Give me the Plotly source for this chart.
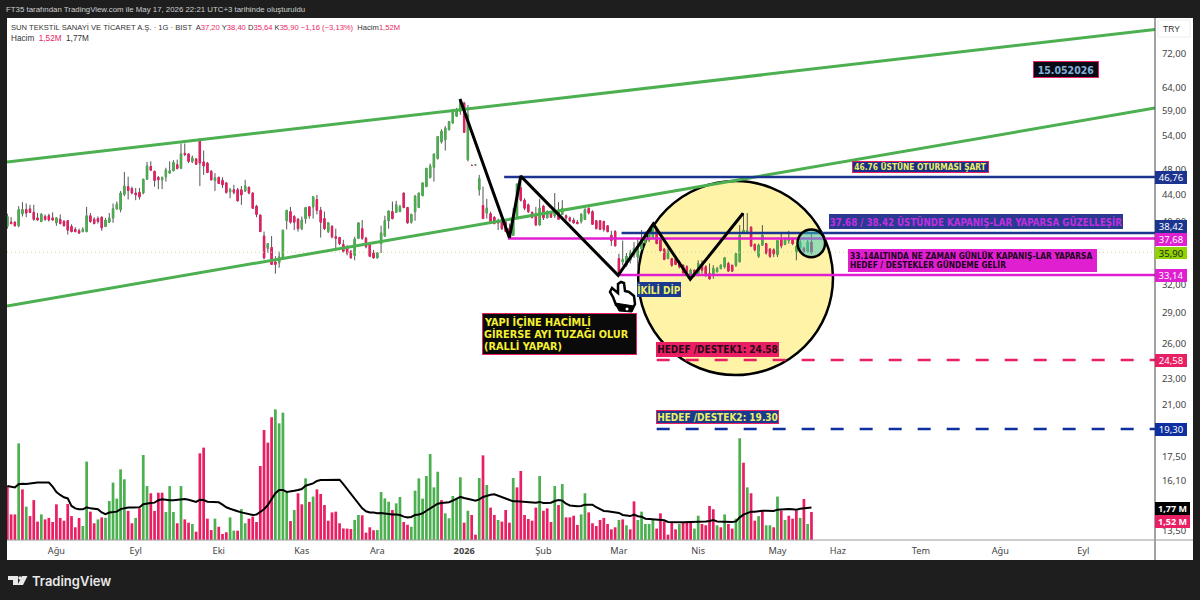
import plotly.graph_objects as go
import math

# ---------- candles ----------
opens = [39.3,39.9,39.9,39.4,41.1,41.7,41.8,41.3,40.5,40.0,
40.7,40.8,40.5,39.8,40.3,40.0,40.1,39.3,38.9,38.7,
38.6,38.6,40.8,40.3,40.4,40.6,39.3,39.9,40.5,41.8,
41.7,44.0,45.2,44.9,44.2,44.3,44.2,46.4,48.5,47.7,
46.7,46.3,46.8,47.4,47.8,48.8,48.2,50.8,50.7,49.4,
49.8,53.4,49.3,49.1,47.7,46.2,46.7,46.2,45.8,44.4,
44.7,44.7,44.7,44.5,45.1,44.2,42.2,40.9,38.0,36.4,
36.5,34.7,34.6,35.2,
40.1,41.4,40.7,40.3,39.0,40.4,42.1,42.1,43.2,41.6,
40.4,38.6,39.3,37.9,37.8,36.9,36.6,36.0,35.5,37.7,
39.0,37.7,37.1,35.8,35.2,37.0,38.0,40.1,41.4,41.3,
41.4,44.2,42.0,39.9,41.4,42.0,43.8,45.2,46.7,48.4,
49.9,52.9,53.3,55.2,56.5,57.9,58.9,60.6,49.7,48.7,
48.8,44.7,42.3,41.2,41.1,40.6,40.0,39.9,39.9,39.0,
38.1,40.7,45.0,43.1,42.4,41.3,41.0,39.5,42.2,40.5,
41.4,40.8,41.6,41.0,40.8,40.5,40.2,39.9,
40.0,40.3,41.9,41.4,40.1,40.1,40.0,39.4,38.1,38.6,
35.1,34.7,34.3,34.9,35.6,35.3,36.3,37.1,37.5,37.9,
38.9,37.5,36.3,35.1,35.1,35.0,34.7,34.3,34.1,32.9,
33.7,33.3,34.5,34.1,33.3,33.1,33.5,33.9,34.1,34.5,
34.3,34.3,34.7,38.5,38.6,39.2,36.9,35.4,36.8,37.0,
36.3,36.2,35.6,37.5,36.9,37.4,37.6,35.9,36.4,36.4,
36.0,37.20]
highs = [41.1,40.6,40.0,42.2,42.8,42.6,42.4,42.4,41.2,41.2,
41.0,41.1,41.3,40.6,41.0,40.2,40.2,39.6,39.2,39.0,
39.2,42.1,41.2,40.6,40.7,40.7,40.5,41.2,42.6,42.9,
44.5,47.6,46.8,45.2,45.0,45.0,46.4,49.3,49.4,47.8,
46.9,46.8,48.3,49.4,49.6,49.7,52.6,52.6,50.8,50.4,
50.0,53.4,51.3,49.3,47.9,47.4,46.8,46.7,45.9,45.0,
45.5,45.0,45.3,46.3,45.2,44.3,42.4,41.0,38.6,37.0,
38.0,35.4,36.0,38.8,
41.6,42.1,40.9,40.5,40.7,42.1,42.1,43.7,43.9,42.1,
41.4,39.9,39.5,39.0,37.9,37.5,36.8,36.2,37.9,39.8,
40.2,37.9,37.2,36.2,35.9,39.4,40.8,41.5,42.9,43.0,
42.4,44.2,42.1,41.1,43.9,44.2,45.8,48.2,49.0,50.7,
53.9,55.3,55.9,56.8,59.2,59.6,61.3,60.9,60.2,48.8,
48.9,47.1,45.2,43.3,41.4,40.7,40.4,40.1,40.1,39.7,
41.9,45.7,46.7,43.4,42.6,41.4,42.1,43.3,42.4,41.6,
41.5,44.2,42.8,43.1,41.0,40.7,40.5,40.2,
41.2,41.9,42.0,41.6,40.2,40.2,40.1,39.5,38.7,38.8,
35.7,37.4,35.8,36.2,37.2,37.6,38.8,38.6,39.0,39.5,
39.3,37.6,36.4,36.4,35.2,35.2,34.9,34.4,34.3,33.9,
33.8,34.9,34.9,34.3,34.5,34.3,34.1,34.4,35.3,34.7,
34.3,35.8,39.5,41.2,41.2,39.3,37.0,37.0,39.5,37.1,
36.4,36.4,37.5,38.3,37.8,38.7,37.8,36.8,37.9,36.6,
37.5,38.40]
lows = [39.0,39.6,39.3,39.2,40.7,40.6,41.2,40.1,40.1,39.9,
40.1,40.0,40.1,39.4,39.6,39.3,38.2,38.5,38.5,38.3,
38.5,38.5,39.8,39.6,39.7,38.7,39.2,39.8,39.8,41.7,
41.3,43.7,43.2,44.0,43.1,43.2,44.0,46.3,47.8,45.2,
44.8,44.8,46.0,47.3,47.7,48.0,48.2,50.3,49.1,49.1,
48.8,45.3,47.1,47.4,46.2,44.5,45.6,45.0,44.1,43.4,
44.0,42.9,42.4,44.4,44.0,41.8,40.6,38.6,35.0,35.8,
34.4,33.3,34.0,35.0,
38.9,39.7,38.8,38.6,38.8,39.7,40.4,40.4,41.0,37.8,
38.8,38.4,37.7,36.4,36.8,35.8,35.5,35.1,34.9,37.6,
37.5,36.4,35.3,35.1,35.1,35.8,37.9,39.0,40.3,41.3,
41.4,41.9,39.7,39.7,40.1,42.0,43.7,45.2,46.5,46.0,
49.7,52.6,51.3,55.1,56.5,57.8,58.2,54.7,49.4,48.6,
48.7,43.8,40.4,40.4,39.9,39.6,38.8,38.8,38.6,37.7,
38.1,40.7,42.9,41.6,41.2,40.4,39.4,39.5,40.2,40.5,
40.5,40.5,40.2,41.0,40.2,39.9,39.7,39.6,
39.7,40.2,41.0,39.5,38.9,38.8,38.6,38.5,36.7,36.7,
33.3,34.3,34.1,34.5,35.2,34.1,36.2,36.8,37.2,37.7,
37.0,36.0,34.9,35.1,34.1,34.3,33.9,33.3,33.3,32.6,
32.9,33.0,33.3,32.9,32.6,32.7,33.5,33.8,33.9,33.5,
33.5,34.1,34.7,38.4,38.4,36.6,36.0,35.2,36.8,35.6,
35.2,35.3,35.3,36.4,36.8,37.0,36.8,34.9,35.8,35.8,
35.8,35.64]
closes = [40.7,39.7,39.4,41.7,41.7,41.2,41.3,40.3,40.2,41.0,
40.3,40.2,40.2,40.5,39.7,39.4,38.8,38.6,38.6,38.4,
38.9,40.8,40.0,39.7,40.0,39.1,40.2,40.5,41.8,42.5,
44.2,45.3,44.6,44.2,43.9,43.6,46.4,48.6,47.9,46.2,
46.3,46.7,47.9,47.8,49.2,48.2,50.7,50.6,49.4,50.0,
48.9,49.1,48.6,47.5,46.3,46.6,45.7,45.5,44.3,44.7,
44.3,43.0,43.9,45.3,44.2,41.9,41.0,38.6,35.2,37.0,
34.4,34.4,35.3,38.8,
41.6,39.9,39.9,39.0,40.2,42.0,40.8,43.6,41.6,39.9,
39.0,39.8,37.9,37.7,37.0,36.0,35.8,35.2,37.6,39.8,
37.7,36.6,35.4,35.2,35.8,38.4,40.1,41.5,40.4,42.4,
42.1,42.0,39.8,41.0,43.7,44.2,45.8,48.2,48.6,50.7,
53.9,54.9,55.5,56.8,59.2,59.2,60.9,54.7,58.2,48.7,
48.8,46.5,40.4,41.9,39.9,39.7,39.8,39.0,38.6,37.9,
40.4,45.6,43.1,41.9,41.4,40.6,39.5,41.9,40.5,41.4,
40.6,41.5,40.3,41.9,40.5,40.1,39.8,39.7,
41.0,41.7,41.2,39.6,39.0,38.9,38.9,38.6,37.4,36.7,
33.4,35.0,35.4,35.8,36.4,36.6,37.7,38.2,38.6,39.3,
37.0,36.1,35.0,36.0,34.3,34.4,34.1,33.4,33.5,33.7,
33.1,34.5,33.7,33.2,32.7,33.9,33.9,34.3,35.2,33.6,
33.6,35.7,38.1,38.8,38.7,36.7,36.2,36.8,38.1,35.8,
35.4,35.7,37.4,36.7,37.5,37.7,37.0,36.6,37.2,36.0,
37.2,35.90]

# ---------- volume (millions) ----------
volume = [2.93,1.39,1.39,5.25,2.75,1.81,1.30,2.17,1.00,1.39,1.12,1.20,0.98,1.94,1.20,1.05,1.96,1.30,0.69,1.20,
0.76,4.26,1.54,0.91,1.12,1.23,1.21,2.12,3.12,2.25,3.84,3.30,1.58,0.91,1.20,1.72,4.62,2.93,2.54,1.58,
2.57,2.57,1.52,2.93,1.52,0.91,2.93,1.12,0.94,0.87,0.45,4.71,5.02,1.16,0.54,1.16,0.72,0.33,0.42,1.23,
0.51,0.51,1.68,0.91,1.16,1.27,0.98,4.02,5.98,5.29,6.67,7.10,6.34,6.92,2.57,1.03,1.63,2.54,1.94,3.35,
2.07,2.36,2.75,2.50,1.90,1.05,1.50,1.54,0.91,0.63,0.62,0.60,1.09,1.36,1.34,0.40,0.69,0.53,0.54,2.61,
2.26,2.08,1.63,1.99,2.34,0.98,0.83,0.72,2.68,3.35,
2.25,3.48,4.67,2.86,3.71,2.17,1.45,1.18,2.39,2.26,3.41,0.94,1.59,1.36,0.29,3.37,4.60,2.99,1.76,1.36,
1.09,1.00,1.63,0.94,3.37,2.86,3.75,1.36,1.14,1.05,1.76,3.48,1.59,1.72,0.98,2.93,1.90,3.04,1.23,1.23,
1.32,0.82,1.39,2.54,1.50,0.91,0.76,1.09,1.20,0.87,0.58,0.69,1.09,1.12,0.80,0.58,2.10,1.09,1.54,0.87,
0.87,1.09,0.62,1.45,1.01,0.29,0.94,0.58,0.87,0.94,0.94,1.01,0.62,1.32,0.87,0.80,1.85,1.67,0.80,0.69,
1.39,0.87,0.62,1.16,5.53,4.20,2.86,2.54,1.05,1.30,1.59,0.80,0.80,0.69,2.36,1.59,1.09,1.32,1.16,1.59,
1.20,2.23,0.87,1.52]
volume_dir = ("RRRGRGRRRG" "RRRRRRRRRR" "GGRRGRGGGG" "GGRRGRGGRR" "RRGGGRGRRG" "RRRRRGRRRG" "GRGGRRRRRR"
              "RGGGGRGRRG" "RGRRRRRRRR" "RRGGRRRRGG" "GGRGGRRGGG"
              "GGGGGRGGGG" "GRGRRGRGRR" "GRRRGRRRRR" "RGRRRGRGRR" "RRGGRRRRRR" "RRGRGRRGGG" "GGRRRRRRGR"
              "RRGGRRRRGR" "GRRGGRGRRG" "RGGRGRGRRR" "GRGR")
volume_ma = [2.93,2.88,2.86,3.03,3.06,3.04,3.08,3.10,3.12,3.13,3.13,3.12,2.90,2.61,2.45,2.32,2.26,1.85,1.72,1.67,
1.67,1.78,1.72,1.70,1.67,1.50,1.41,1.49,1.50,1.54,1.68,1.74,1.76,1.76,1.76,1.78,1.94,1.99,2.01,2.03,
2.16,2.21,2.17,2.16,2.16,2.19,2.23,2.23,2.19,2.12,2.07,2.19,2.17,2.08,2.07,2.07,2.05,1.92,1.78,1.70,
1.61,1.56,1.50,1.45,1.41,1.36,1.38,1.54,1.67,1.90,2.26,2.54,2.72,2.72,2.61,2.63,2.68,2.72,2.77,2.95,
3.01,3.08,3.21,3.26,3.26,3.26,3.28,3.30,3.28,3.04,2.77,2.50,2.21,1.96,1.72,1.56,1.50,1.49,1.45,1.47,
1.43,1.41,1.39,1.39,1.36,1.27,1.23,1.25,1.36,1.39,
1.45,1.59,1.72,1.85,1.97,2.01,2.01,2.05,2.14,2.23,2.34,2.28,2.25,2.19,2.14,2.21,2.34,2.41,2.46,2.48,
2.41,2.32,2.26,2.16,2.10,2.10,2.08,2.07,2.07,2.05,2.03,2.07,2.01,2.01,2.03,2.12,2.17,2.14,1.97,1.88,
1.85,1.83,1.85,1.92,1.92,1.92,1.78,1.67,1.58,1.56,1.54,1.52,1.47,1.36,1.32,1.30,1.38,1.29,1.27,1.16,
1.14,1.12,1.12,1.12,1.07,0.98,0.96,0.96,0.96,0.96,0.96,0.98,0.98,0.98,0.98,1.00,1.03,1.09,1.01,1.00,
0.98,0.98,0.98,1.01,1.23,1.38,1.47,1.54,1.54,1.58,1.59,1.59,1.58,1.58,1.65,1.67,1.67,1.68,1.67,1.65,
1.70,1.72,1.76,1.77]

# ---------- axes ----------
month_pos = [13,34,56,78,98,121,142,162,183,204,220,242,263,285]
month_lab = ["Ağu","Eyl","Eki","Kas","Ara","<b>2026</b>","Şub","Mar","Nis","May","Haz","Tem","Ağu","Eyl"]
price_ticks = [72,64,59,54,48,44,40,32,29,26,23,21,17.5,16.1,13.5]
price_tick_text = ["72,00","64,00","59,00","54,00","48,00","44,00","40,00","32,00","29,00","26,00","23,00","21,00","17,50","16,10","13,50"]

# ---------- hand drawings (bar index / price) ----------
channel_up_x = [-0.09, 304.0]
channel_up_y = [49.29, 78.5]
channel_lo_x = [-0.09, 304.0]
channel_lo_y = [29.72, 59.56]
zig_x = [119.9,133.0,136.0,161.8,171.1,180.9,194.9]
zig_y = [61.5,37.78,46.9,33.1,39.64,32.64,41.16]
last_close = 35.90
levels = [("#1a3490",46.76,131.6,"solid"),("#1a3490",38.42,162.7,"solid"),("#e020d0",37.68,132.6,"solid"),
          ("#e020d0",33.14,161.8,"solid"),("#e91e63",24.58,172.0,"13px,16px"),("#0d2fa0",19.30,172.0,"13px,16px")]
big_circle = (167.1,218.7,23.32,46.1)
small_circle = (209.3,216.6,35.27,38.9)

GREEN, PINK = "#4caf50", "#e91e63"
W, H, L, R, T, B = 1200, 600, 7, 1155, 18, 540
def px(x): return (x-L)/(R-L)
def py(y): return (B-y)/(B-T)
def path(points, close=True):
    d = "M" + " L".join(f"{px(a):.5f},{py(b):.5f}" for a, b in points)
    return d + (" Z" if close else "")

idx = list(range(len(opens)))
fig = go.Figure()
fig.add_trace(go.Bar(x=idx, y=volume, yaxis="y", width=0.72,
                     marker=dict(color=[GREEN if d=="G" else PINK for d in volume_dir], line_width=0), hoverinfo="skip"))
fig.add_trace(go.Scatter(x=idx, y=volume_ma, yaxis="y", mode="lines", line=dict(color="#000000", width=2), hoverinfo="skip"))
fig.add_trace(go.Candlestick(x=idx, open=opens, high=highs, low=lows, close=closes, yaxis="y2",
                             increasing=dict(line=dict(color="#555555", width=1), fillcolor=GREEN),
                             decreasing=dict(line=dict(color="#555555", width=1), fillcolor=PINK), hoverinfo="skip"))
body_hi = [max(o,c) for o,c in zip(opens,closes)]
body_lo = [min(o,c) for o,c in zip(opens,closes)]
fig.add_trace(go.Candlestick(x=idx, open=opens, high=body_hi, low=body_lo, close=closes, yaxis="y2",
                             increasing=dict(line=dict(color=GREEN, width=1), fillcolor=GREEN),
                             decreasing=dict(line=dict(color=PINK, width=1), fillcolor=PINK), hoverinfo="skip"))
fig.add_trace(go.Scatter(x=[-0.09,304.0], y=[last_close,last_close], yaxis="y2", mode="lines",
                         line=dict(color="#c8d890", width=1, dash="1px,3px"), hoverinfo="skip"))
for xs, ys in ((channel_up_x,channel_up_y),(channel_lo_x,channel_lo_y)):
    fig.add_trace(go.Scatter(x=xs, y=ys, yaxis="y2", mode="lines", line=dict(color=GREEN, width=3), hoverinfo="skip"))
for col, lvl, start, dash in levels:
    fig.add_trace(go.Scatter(x=[start,304.0], y=[lvl,lvl], yaxis="y2", mode="lines",
                             line=dict(color=col, width=2.5, dash=dash), hoverinfo="skip"))
fig.add_trace(go.Scatter(x=zig_x, y=zig_y, yaxis="y2", mode="lines", line=dict(color="#000000", width=3), hoverinfo="skip"))

hand = [(621,282),(624,283),(625,291),(629,292),(634,296),(635,304),(632,310),(621,309),(616,305),(613,297),(610,292),(612,288),(618,293),(618,284)]
cuff = [(615,303),(634,306),(632,312),(619,311)]
logo_a = [(8,576),(18,576),(18,585),(13,585),(13,580),(8,580)]
logo_b = [(22,576),(27.5,576),(23,585),(17.5,585)]

shapes = [
    dict(type="rect", xref="paper", yref="paper", x0=px(7), x1=px(1193), y0=py(560), y1=py(18),
         fillcolor="#ffffff", line_width=0, layer="below"),
    dict(type="circle", xref="x", yref="y2", x0=big_circle[0], x1=big_circle[1], y0=big_circle[2], y1=big_circle[3],
         fillcolor="#fff3a8", line=dict(color="#000000", width=2.5), layer="below"),
    dict(type="circle", xref="x", yref="y2", x0=small_circle[0], x1=small_circle[1], y0=small_circle[2], y1=small_circle[3],
         fillcolor="rgba(60,200,190,0.5)", line=dict(color="#000000", width=2.5), layer="above"),
    dict(type="line", xref="paper", yref="paper", x0=px(1155), x1=px(1155), y0=py(560), y1=py(18), line=dict(color="#444444", width=1), layer="above"),
    dict(type="line", xref="paper", yref="paper", x0=px(7), x1=px(1193), y0=py(540), y1=py(540), line=dict(color="#9a9a9a", width=1), layer="above"),
    dict(type="rect", xref="paper", yref="paper", x0=px(1158), x1=px(1190), y0=py(37), y1=py(20), line=dict(color="#eeeeee", width=1), layer="above"),
    dict(type="path", xref="paper", yref="paper", path=path(hand), fillcolor="#ffffff", line=dict(color="#000000", width=2.5), layer="above"),
    dict(type="path", xref="paper", yref="paper", path=path(cuff), fillcolor="#000000", line=dict(color="#000000", width=1), layer="above"),
    dict(type="circle", xref="paper", yref="paper", x0=px(625.5), x1=px(628.5), y0=py(310.5), y1=py(307.5), fillcolor="#ffffff", line_width=0, layer="above"),
    dict(type="path", xref="paper", yref="paper", path=path(logo_a), fillcolor="#e8e8e8", line_width=0, layer="above"),
    dict(type="path", xref="paper", yref="paper", path=path(logo_b), fillcolor="#e8e8e8", line_width=0, layer="above"),
    dict(type="circle", xref="paper", yref="paper", x0=px(18.3), x1=px(21.7), y0=py(579.7), y1=py(576.3), fillcolor="#e8e8e8", line_width=0, layer="above"),
]

CF = "DejaVu Sans Condensed, DejaVu Sans, sans-serif"
def box(text, x0, x1, y0, y1, bg, fg, size, border=None, align="center", bold=True, font=CF):
    fig.add_annotation(xref="paper", yref="paper", x=px((x0+x1)/2), y=py((y0+y1)/2), xanchor="center", yanchor="middle",
                       text=(f"<b>{text}</b>" if bold else text) if text else " ", showarrow=False, width=x1-x0-(2 if border else 0),
                       height=y1-y0-(2 if border else 0), align=align, valign="middle",
                       bgcolor=bg, bordercolor=border or bg, borderwidth=1 if border else 0, borderpad=0,
                       font=dict(family=font, size=size, color=fg))

def label(text, x, y, size, color, bold=False, font="Liberation Sans", weight=None):
    f = dict(family=font, size=size, color=color)
    if weight: f["weight"] = weight
    fig.add_annotation(xref="paper", yref="paper", x=px(x), y=py(y), xanchor="left", yanchor="middle",
                       text=f"<b>{text}</b>" if bold else text, showarrow=False, font=f, borderpad=0, borderwidth=0)

label("FT35 tarafından TradingView.com ile May 17, 2026 22:21 UTC+3 tarihinde oluşturuldu", 6, 9.5, 7.85, "#cfcfcf")
p = lambda s: f'<span style="color:{PINK}">{s}</span>'
label("SUN TEKSTİL SANAYİ VE TİCARET A.Ş. · 1G · BIST  A" + p("37,20") + " Y" + p("38,40") + " D" + p("35,64") + " K" + p("35,90") + " " + p("−1,16 (−3,13%)") + "  Hacim" + p("1,52M"), 11, 27, 7.6, "#333333")
label("Hacim  " + p("1,52M") + "  1,77M", 11, 38, 8.2, "#333333")
label("TRY", 1163, 29, 8.5, "#333333")

box("15.052026", 1033, 1099, 61, 78, "#0a0a14", "#82b1dc", 10.5, PINK)
box("46.76 ÜSTÜNE OTURMASI ŞART", 852, 989, 161, 173, "#1a2f8a", "#eef060", 8.3, PINK)
box("37.68 / 38.42 ÜSTÜNDE KAPANIŞ-LAR YAPARSA GÜZELLEŞİR", 829, 1123, 214, 229, "#2a3a90", "#c030e0", 9.7)
box("", 848, 1097, 249, 272, "#e020d0", "#200020", 8)
label("33.14ALTINDA NE ZAMAN GÜNLÜK KAPANIŞ-LAR YAPARSA", 850, 256, 8.3, "#200020", bold=True, font=CF)
label("HEDEF / DESTEKLER GÜNDEME GELİR", 850, 265, 8.3, "#200020", bold=True, font=CF)
box("İKİLİ DİP", 637, 681, 282, 297, "#1a3a90", "#eef060", 10)
box("", 482, 637, 313, 355, "#0a0a0a", "#f5f030", 8, PINK)
for line, yy in (("YAPI İÇİNE HACİMLİ",322),("GİRERSE AYI TUZAĞI OLUR",334),("(RALLİ YAPAR)",346)):
    label(line, 484, yy, 10.8, "#f5f030", bold=True, font=CF)
box("HEDEF /DESTEK1: 24.58", 656, 779, 342, 357, PINK, "#2a0a18", 10)
box("HEDEF /DESTEK2: 19.30", 656, 779, 410, 424, "#1a3a90", "#eef060", 10, PINK)

tag = dict(bold=False, font="Noto Sans")
box("46,76", 1155, 1187, 171, 184, "#1a3490", "#ffffff", 9.5, **tag)
box("38,42", 1155, 1187, 220, 233, "#1a3490", "#ffffff", 9.5, **tag)
box("37,68", 1155, 1187, 233, 246, "#e020d0", "#ffffff", 9.5, **tag)
box("35,90", 1155, 1187, 247, 259, "#8fd400", "#222222", 9.5, **tag)
box("33,14", 1155, 1187, 269, 282, "#e020d0", "#ffffff", 9.5, **tag)
box("24,58", 1155, 1187, 354, 367, PINK, "#ffffff", 9.5, **tag)
box("19,30", 1155, 1187, 423, 436, "#0d2fa0", "#ffffff", 9.5, **tag)
box("1,77 M", 1155, 1190, 502, 515, "#000000", "#ffffff", 9, bold=True, font="Noto Sans")
box("1,52 M", 1155, 1190, 515, 528, PINK, "#ffffff", 9, bold=True, font="Noto Sans")

label("TradingView", 32, 580.5, 13, "#e8e8e8", font="Inter", weight=600)

fig.update_layout(
    width=W, height=H, margin=dict(l=L, r=W-R, t=T, b=H-B, autoexpand=False),
    paper_bgcolor="#1e1e1e", plot_bgcolor="rgba(0,0,0,0)", showlegend=False, hovermode=False, barmode="overlay",
    shapes=shapes, boxgap=0.5,
    xaxis=dict(range=[-0.09,304.0], tickvals=month_pos, ticktext=month_lab, showgrid=False, zeroline=False,
               rangeslider=dict(visible=False), ticks="outside", ticklen=2, tickcolor="rgba(0,0,0,0)",
               tickfont=dict(family="Noto Sans", size=9.2, color="#444444")),
    yaxis=dict(range=[0,28.37], visible=False, fixedrange=True),
    yaxis2=dict(type="log", overlaying="y", side="right", anchor="x", range=[1.1161,1.9124], tickvals=price_ticks,
                ticktext=price_tick_text, showgrid=False, zeroline=False, ticks="outside", ticklen=4, tickcolor="rgba(0,0,0,0)",
                tickfont=dict(family="Noto Sans", size=9.5, color="#444444")),
)
fig.write_html("out.html", config={"displayModeBar": False},
               post_script="document.body.style.margin='0';document.body.style.overflow='hidden';document.body.style.background='#1e1e1e';")
